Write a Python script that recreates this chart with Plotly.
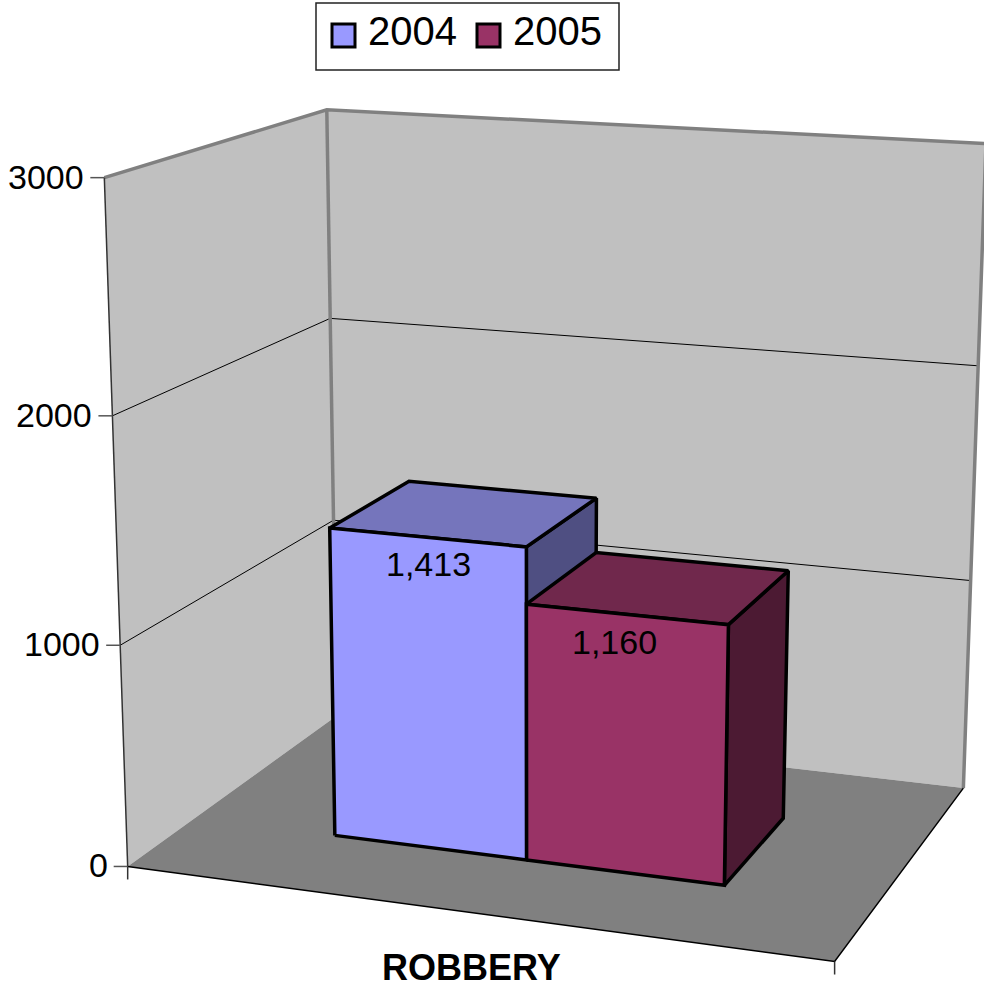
import plotly.graph_objects as go

#%% data
categories = ['ROBBERY']
years = ['2004', '2005']
values = [1413, 1160]
value_labels = ['1,413', '1,160']
z_ticks = [0, 1000, 2000, 3000]
z_max = 3000

#%% colours
colors_front = ['#9999FF', '#993366']
colors_top = ['#7575BC', '#70284C']
colors_side = ['#4F4F82', '#4C1A33']
wall_color = '#C0C0C0'
floor_color = '#808080'
font = 'Liberation Sans'

#%% oblique view of the box: (across, depth, value) -> page position
view = [647.358, 257.121, -28.9836, 127.684,
        26.414, -48.4961, -698.395, 866.459,
        -0.0713848, 0.142803, -0.0539628]
bar_edges = [0.216258, 0.503787, 0.788439]
bar_depth = [0.296181, 0.695873]
label_shift = [1, -12]


def project(u, v, value):
    w = value / z_max
    d = view[8] * u + view[9] * v + view[10] * w + 1
    x = (view[0] * u + view[1] * v + view[2] * w + view[3]) / d
    y = (view[4] * u + view[5] * v + view[6] * w + view[7]) / d
    return x, y


fig = go.Figure()


def add_path(corners, color=None, line_color=None, width=0):
    xy = [project(*c) for c in corners]
    if color:
        xy.append(xy[0])
    fig.add_trace(go.Scatter(
        x=[p[0] for p in xy], y=[p[1] for p in xy],
        mode='lines', fill='toself' if color else 'none', fillcolor=color,
        line=dict(color=line_color or 'rgba(0,0,0,0)', width=width, simplify=False),
        hoverinfo='skip', showlegend=False))


#%% walls and floor
add_path([(0, 0, 0), (0, 1, 0), (0, 1, z_max), (0, 0, z_max)], color=wall_color)
add_path([(0, 1, 0), (1, 1, 0), (1, 1, z_max), (0, 1, z_max)], color=wall_color)
add_path([(0, 0, 0), (1, 0, 0), (1, 1, 0), (0, 1, 0)], color=floor_color)

for t in z_ticks[1:-1]:
    add_path([(0, 0, t), (0, 1, t), (1, 1, t)], line_color='black', width=1)

add_path([(0, 0, z_max), (0, 1, z_max), (1, 1, z_max), (1, 1, 0)], line_color=floor_color, width=3.5)
add_path([(0, 1, z_max), (0, 1, 0)], line_color=floor_color, width=3.5)
add_path([(0, 0, z_max), (0, 0, 0)], line_color='#333333', width=1.5)
add_path([(0, 0, 0), (1, 0, 0), (1, 1, 0)], line_color='black', width=1.5)

#%% bars
v0, v1 = bar_depth
for i, h in enumerate(values):
    a, b = bar_edges[i], bar_edges[i + 1]
    outline = dict(line_color='black', width=3.5)
    add_path([(b, v0, 0), (b, v1, 0), (b, v1, h), (b, v0, h)], color=colors_side[i], **outline)
    add_path([(a, v0, h), (b, v0, h), (b, v1, h), (a, v1, h)], color=colors_top[i], **outline)
    add_path([(a, v0, 0), (b, v0, 0), (b, v0, h), (a, v0, h)], color=colors_front[i], **outline)

#%% tick marks and labels
shapes = []
annotations = []
for t in z_ticks:
    x, y = project(0, 0, t)
    shapes.append(dict(type='line', x0=x - 14, x1=x, y0=y, y1=y, line=dict(color='#555555', width=1.5)))
    annotations.append(dict(x=x - 18, y=y - 1, text=str(t), xanchor='right', font=dict(size=34)))
for u in [0, 1]:
    x, y = project(u, 0, 0)
    shapes.append(dict(type='line', x0=x, x1=x, y0=y, y1=y + 13, line=dict(color='#333333', width=1.5)))

#%% category and value labels
x, y = project(0.5, 0, 0)
annotations.append(dict(x=x + 3, y=y + 55, text='<b>' + categories[0] + '</b>', font=dict(size=36)))
for i, h in enumerate(values):
    x, y = project((bar_edges[i] + bar_edges[i + 1]) / 2, v0, h - 125)
    annotations.append(dict(x=x + label_shift[i], y=y - 1, text=value_labels[i], font=dict(size=34)))

#%% legend
shapes.append(dict(type='rect', x0=316, x1=619, y0=3, y1=70, fillcolor='white', line=dict(color='#222222', width=1.5)))
for i, year in enumerate(years):
    left = 332 + 145 * i
    shapes.append(dict(type='rect', x0=left, x1=left + 23, y0=24, y1=47, fillcolor=colors_front[i],
                       line=dict(color='black', width=3)))
    annotations.append(dict(x=left + 34, y=31, text=year, xanchor='left', font=dict(size=40)))

for ann in annotations:
    ann.update(showarrow=False, xref='x', yref='y')

fig.update_layout(
    width=984, height=988, margin=dict(l=0, r=0, t=0, b=0, pad=0),
    paper_bgcolor='white', plot_bgcolor='white', showlegend=False,
    font=dict(family=font, color='black'),
    xaxis=dict(range=[0, 984], visible=False, fixedrange=True),
    yaxis=dict(range=[988, 0], visible=False, fixedrange=True),
    shapes=shapes, annotations=annotations,
)

fig.write_html("out.html", config={'displayModeBar': False}, post_script="document.body.style.margin='0';")
